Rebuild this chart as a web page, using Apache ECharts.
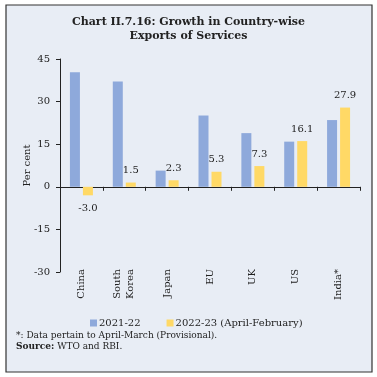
<!DOCTYPE html>
<html><head><meta charset="utf-8">
<script src="https://cdn.jsdelivr.net/npm/echarts@6/dist/echarts.min.js"></script>
<style>html,body{margin:0;padding:0;background:#fff}#c{width:377px;height:377px}</style>
</head><body><div id="c"></div>
<script>
var categories = ['China', 'South\nKorea', 'Japan', 'EU', 'UK', 'US', 'India*'];
var series2122 = [40.3, 37.1, 5.7, 25.1, 18.9, 15.9, 23.5];
var series2223 = [-3.0, 1.5, 2.3, 5.3, 7.3, 16.1, 27.9];
var seriesNames = ['2021-22', '2022-23 (April-February)'];
var yTicks = {min: -30, max: 45, interval: 15};

var F = '"DejaVu Serif", "Liberation Serif", serif';
var chart = echarts.init(document.getElementById('c'), null, {renderer: 'canvas'});
chart.setOption({
  animation: false,
  backgroundColor: '#fff',
  graphic: [
    {type: 'rect', z: -10, shape: {x: 6, y: 5, width: 366, height: 367},
     style: {fill: '#E8EDF5', stroke: '#333', lineWidth: 1.2}},
    {type: 'text', left: 16, top: 331, style: {text: '*: Data pertain to April-March (Provisional).', font: '9px ' + F, fill: '#222'}},
    {type: 'text', left: 16, top: 342, style: {text: '{b|Source:} WTO and RBI.', font: '9px ' + F, fill: '#222',
      rich: {b: {fontWeight: 'bold', fontFamily: F, fontSize: 9, fill: '#222'}}}}
  ],
  title: {
    text: 'Chart II.7.16: Growth in Country-wise\nExports of Services',
    left: 'center', top: 10,
    textStyle: {fontFamily: F, fontWeight: 'bold', fontSize: 11, lineHeight: 14, color: '#222'}
  },
  legend: {
    top: 313, left: 85, itemWidth: 7, itemHeight: 7, itemGap: 26,
    icon: 'rect',
    textStyle: {fontFamily: F, fontSize: 10, color: '#222', padding: [0, 0, 0, -3]},
    data: seriesNames
  },
  grid: {left: 60, right: 17, top: 59, bottom: 105},
  xAxis: [
    {type: 'category', data: categories, position: 'bottom',
     axisLine: {onZero: true, lineStyle: {color: '#222', width: 1}},
     axisTick: {show: true, length: 4, lineStyle: {color: '#222'}},
     axisLabel: {show: false}},
    {type: 'category', data: categories, position: 'bottom',
     axisLine: {show: false, onZero: false}, axisTick: {show: false},
     axisLabel: {rotate: 90, margin: -3, fontFamily: F, fontSize: 10, color: '#222', lineHeight: 13, interval: 0}}
  ],
  yAxis: {
    type: 'value', min: yTicks.min, max: yTicks.max, interval: yTicks.interval,
    name: 'Per cent', nameLocation: 'middle', nameGap: 28, nameRotate: 90, nameMoveOverlap: false,
    nameTextStyle: {fontFamily: F, fontSize: 10, color: '#222'},
    axisLine: {show: true, lineStyle: {color: '#222', width: 1}},
    axisTick: {show: true, length: 4, lineStyle: {color: '#222'}},
    splitLine: {show: false},
    axisLabel: {margin: 10, fontFamily: F, fontSize: 10, color: '#222'}
  },
  series: [
    {name: seriesNames[0], type: 'bar', xAxisIndex: 0, data: series2122, barWidth: 10, barGap: '30%',
     itemStyle: {color: '#8EA9DB'}},
    {name: seriesNames[1], type: 'bar', xAxisIndex: 0, data: series2223.map(function (v) {
        return v < 0 ? {value: v, label: {position: 'bottom', distance: 8}} : v;
      }), barWidth: 10,
     itemStyle: {color: '#FFD966'},
     label: {show: true, position: 'top', distance: 7, fontFamily: F, fontSize: 10, color: '#222',
       formatter: function (p) { return p.value.toFixed(1); }}}
  ]
});
</script></body></html>
